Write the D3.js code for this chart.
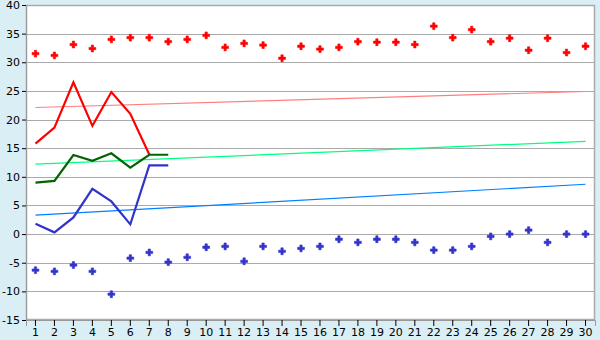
<!DOCTYPE html>
<html>
<head>
<style>
  body { margin: 0; background: #daeef5; }
  svg { display: block; }
  .tick text { font-family: "DejaVu Sans", sans-serif; font-size: 11px; fill: #000; }
</style>
</head>
<body>
<div id="chart"></div>
<script src="https://cdnjs.cloudflare.com/ajax/libs/d3/7.8.5/d3.min.js"></script>
<script>
// days of the month
const days = d3.range(1, 31);
const yTicks = [-15, -10, -5, 0, 5, 10, 15, 20, 25, 30, 35, 40];

// scattered markers
const highPoints = [31.5, 31.2, 33.1, 32.4, 34.0, 34.3, 34.3, 33.6, 34.0, 34.7,
  32.6, 33.3, 33.0, 30.7, 32.8, 32.3, 32.6, 33.6, 33.5, 33.5,
  33.1, 36.3, 34.3, 35.7, 33.6, 34.2, 32.1, 34.2, 31.7, 32.8];
const lowPoints = [-6.3, -6.5, -5.4, -6.5, -10.5, -4.2, -3.2, -4.9, -4.05, -2.3,
  -2.15, -4.75, -2.15, -3.0, -2.5, -2.15, -0.9, -1.45, -0.9, -0.9,
  -1.45, -2.8, -2.8, -2.15, -0.4, 0, 0.7, -1.45, 0, 0];

// lines for the first days
const redLine = [15.8, 18.6, 26.5, 18.9, 24.8, 21.0, 13.9];
const greenLine = [9.0, 9.3, 13.8, 12.8, 14.1, 11.6, 13.85, 13.85];
const blueLine = [1.8, 0.3, 2.9, 7.9, 5.7, 1.7, 12.0, 12.0];

// trend lines: value at day 1 and day 30
const redTrend = [22.1, 24.9];
const greenTrend = [12.2, 16.2];
const blueTrend = [3.3, 8.7];

const W = 600, H = 340;
const margin = { top: 5, right: 5, bottom: 20, left: 26 };
const iw = W - margin.left - margin.right;
const ih = H - margin.top - margin.bottom;

const svg = d3.select("#chart").append("svg")
  .attr("width", W).attr("height", H);

const g = svg.append("g")
  .attr("transform", `translate(${margin.left},${margin.top})`);

const x = d3.scaleBand().domain(days).range([0, iw]);
const y = d3.scaleLinear().domain([-15, 40]).range([ih, 0]);
const cx = d => x(d) + x.bandwidth() / 2;

// plot background
g.append("rect")
  .attr("width", iw).attr("height", ih)
  .attr("fill", "#fff");

// grid lines
g.selectAll(".grid")
  .data(yTicks)
  .join("line")
  .attr("class", "grid")
  .attr("x1", 0).attr("x2", iw)
  .attr("y1", d => Math.round(y(d)) + 0.5)
  .attr("y2", d => Math.round(y(d)) + 0.5)
  .attr("stroke", "#aaa")
  .attr("stroke-width", 1);

// border
g.append("rect")
  .attr("x", 0.5).attr("y", 0.5)
  .attr("width", iw - 1).attr("height", ih - 1)
  .attr("fill", "none")
  .attr("stroke", "#aaa")
  .attr("stroke-width", 1.5);

// axes
const xAxis = g.append("g")
  .attr("transform", `translate(0,${ih})`)
  .call(d3.axisBottom(x).tickSize(6).tickPadding(2));
xAxis.select(".domain").attr("stroke", "#999");
xAxis.selectAll(".tick line").attr("stroke", "#000");

const yAxis = g.append("g")
  .call(d3.axisLeft(y).tickValues(yTicks).tickSize(4).tickPadding(2)
    .tickFormat(d => String(d)));
yAxis.select(".domain").attr("stroke", "#999");
yAxis.selectAll(".tick line").attr("stroke", "#000");

// trend lines
function trend(vals, color) {
  g.append("line")
    .attr("x1", cx(days[0])).attr("x2", cx(days[days.length - 1]))
    .attr("y1", y(vals[0])).attr("y2", y(vals[1]))
    .attr("stroke", color)
    .attr("stroke-width", 1.2);
}
trend(redTrend, "#ff7f7f");
trend(greenTrend, "#00ff80");
trend(blueTrend, "#0080ff");

// data lines
const line = d3.line().x((d, i) => cx(days[i])).y(d => y(d));
function drawLine(vals, color) {
  g.append("path")
    .datum(vals)
    .attr("d", line)
    .attr("fill", "none")
    .attr("stroke", color)
    .attr("stroke-width", 2.2);
}
drawLine(redLine, "#ff0000");
drawLine(greenLine, "#006400");
drawLine(blueLine, "#3333cc");

// markers
const sym = d3.symbol().type(d3.symbolCross).size(26);
function markers(vals, color) {
  g.append("g").selectAll("path")
    .data(vals)
    .join("path")
    .attr("d", sym)
    .attr("transform", (d, i) => `translate(${cx(days[i])},${y(d)})`)
    .attr("fill", color)
    .attr("stroke", color)
    .attr("stroke-width", 0.6);
}
markers(highPoints, "#ff0000");
markers(lowPoints, "#3333cc");
</script>
</body>
</html>
